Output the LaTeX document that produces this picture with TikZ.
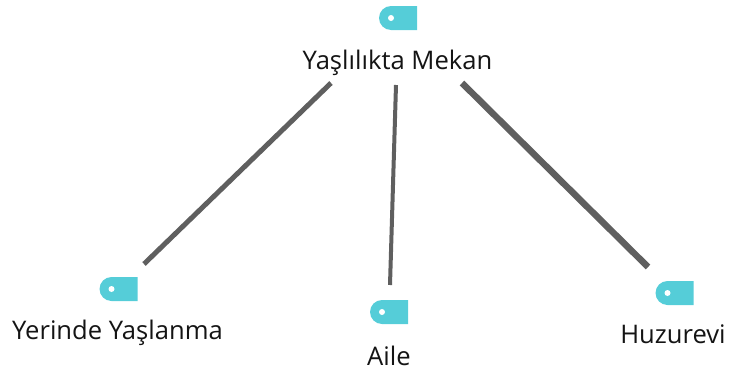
\documentclass[tikz,border=0pt]{standalone}
\usepackage{fontspec}
\setmainfont{Open Sans}
\usetikzlibrary{shapes.misc}
\definecolor{tagc}{HTML}{55CDD8}
\definecolor{linkc}{HTML}{5F5F5F}
\tikzset{
  x=1pt,y=-1pt,
  tagbox/.style={rounded rectangle,rounded rectangle right arc=none,fill=tagc,draw=none,minimum width=38pt,minimum height=24pt,inner sep=0pt,outer sep=0pt},
  tagdot/.style={circle,fill=white,draw=none,minimum size=6pt,inner sep=0pt},
  lbl/.style={font=\fontsize{25.6pt}{28pt}\selectfont,text=black!92,inner sep=0pt,anchor=base},
  link/.style={draw=linkc,line cap=butt}
}
\begin{document}
\begin{tikzpicture}
\useasboundingbox (0,0) rectangle (729,367);
\node[tagbox] (t0) at (398,18) {};
\node[tagdot] (d0) at (391,18) {};
\node[tagbox] (t1) at (118.5,289) {};
\node[tagdot] (d1) at (111.5,289) {};
\node[tagbox] (t2) at (389,312) {};
\node[tagdot] (d2) at (382,312) {};
\node[tagbox] (t3) at (674.5,293) {};
\node[tagdot] (d3) at (667.5,293) {};
\node[lbl] (l0) at (397.5,69) {Yaşlılıkta Mekan};
\node[lbl] (l1) at (117.5,339) {Yerinde Yaşlanma};
\node[lbl] (l2) at (389,365) {Aile};
\node[lbl] (l3) at (673,343) {Huzurevi};
\coordinate (a1) at (331,83);
\coordinate (b1) at (144,264);
\coordinate (a2) at (396,85);
\coordinate (b2) at (390,285);
\coordinate (a3) at (462,83);
\coordinate (b3) at (648,267);
\draw[link,line width=5pt] (a1) -- (b1);
\draw[link,line width=4pt] (a2) -- (b2);
\draw[link,line width=6.5pt] (a3) -- (b3);
\end{tikzpicture}
\end{document}
